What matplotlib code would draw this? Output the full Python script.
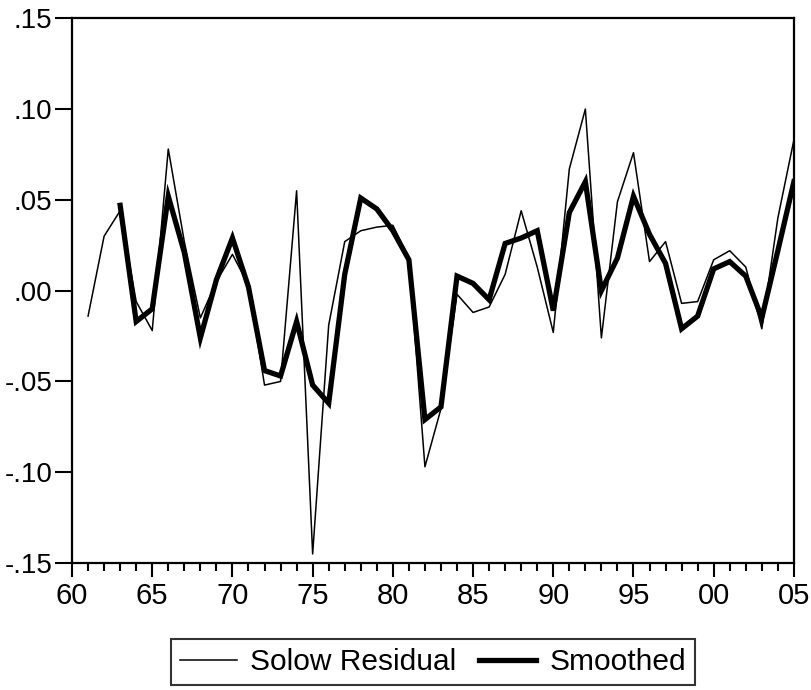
import numpy as np
import matplotlib
matplotlib.use("Agg")
import matplotlib.pyplot as plt
from matplotlib.ticker import FixedLocator, FuncFormatter

plt.rcParams["font.family"] = ["Liberation Sans", "DejaVu Sans"]

solow_years = list(range(1961, 2006))
solow = [-0.014, 0.030, 0.044, -0.006, -0.022, 0.078, 0.027, -0.015, 0.005, 0.020,
         0.003, -0.052, -0.050, 0.055, -0.145, -0.019, 0.027, 0.033, 0.035, 0.036,
         0.018, -0.097, -0.065, -0.002, -0.012, -0.009, 0.009, 0.044, 0.013, -0.023,
         0.067, 0.100, -0.026, 0.049, 0.076, 0.016, 0.027, -0.007, -0.006, 0.017,
         0.022, 0.013, -0.021, 0.040, 0.083]

smooth_years = list(range(1963, 2006))
smoothed = [0.047, -0.017, -0.010, 0.052, 0.021, -0.026, 0.006, 0.029, 0.002, -0.044,
            -0.047, -0.017, -0.052, -0.062, 0.009, 0.051, 0.045, 0.033, 0.017, -0.071,
            -0.064, 0.008, 0.004, -0.005, 0.026, 0.029, 0.033, -0.011, 0.043, 0.060,
            0.000, 0.018, 0.052, 0.031, 0.015, -0.021, -0.014, 0.012, 0.016, 0.008,
            -0.015, 0.022, 0.060]

fig = plt.figure(figsize=(8.12, 6.9), dpi=100)
ax = fig.add_axes([0.0887, 0.184, 0.889, 0.7895])

ax.plot(solow_years, solow, color="black", linewidth=1.1, label="Solow Residual")
ax.plot(smooth_years, smoothed, color="black", linewidth=3.8, label="Smoothed",
        solid_joinstyle="miter")

ax.set_xlim(1960, 2005)
ax.set_ylim(-0.15, 0.15)

ax.xaxis.set_major_locator(FixedLocator(range(1960, 2006, 5)))
ax.xaxis.set_minor_locator(FixedLocator(range(1960, 2006, 1)))
ax.xaxis.set_major_formatter(FuncFormatter(lambda v, p: "%02d" % (int(round(v)) % 100)))
ax.yaxis.set_major_locator(FixedLocator(np.arange(-0.15, 0.151, 0.05)))


def yfmt(v, p):
    s = "%.2f" % v
    if s.startswith("-0"):
        s = "-" + s[2:]
    elif s.startswith("0"):
        s = s[1:]
    if s == "-.00":
        s = ".00"
    return s


ax.yaxis.set_major_formatter(FuncFormatter(yfmt))

for sp in ax.spines.values():
    sp.set_linewidth(1.6)

ax.tick_params(axis="x", which="major", direction="out", length=10, width=1.5,
               labelsize=21, pad=4)
ax.tick_params(axis="x", which="minor", direction="out", length=6, width=1.5)
ax.tick_params(axis="y", which="major", direction="out", length=12, width=1.5,
               labelsize=20, pad=2)
ax.tick_params(top=False, right=False)

ax_center = 0.0887 + 0.889 / 2
leg = fig.legend(*ax.get_legend_handles_labels(), loc="upper center",
                 bbox_to_anchor=(ax_center, 1 - 639 / 690), ncol=2, fontsize=21.5,
                 frameon=True, fancybox=False, edgecolor="black", handlelength=1.9,
                 columnspacing=0.75, handletextpad=0.45, borderpad=0.3,
                 borderaxespad=0)
leg.get_frame().set_linewidth(1.5)

fig.savefig("out.png", dpi=100)
